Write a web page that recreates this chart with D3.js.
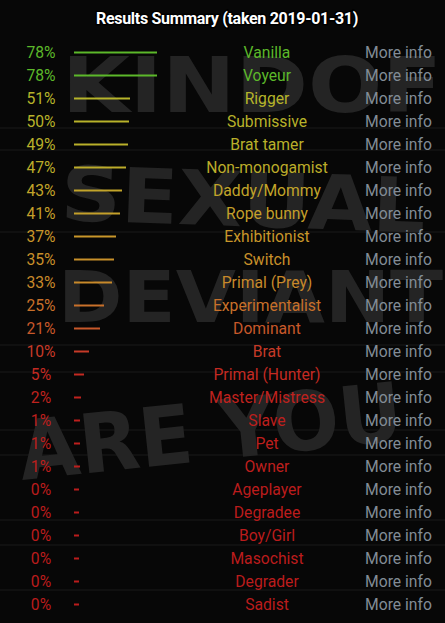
<!DOCTYPE html>
<html>
<head>
<meta charset="utf-8">
<script src="https://cdn.jsdelivr.net/npm/d3@7"></script>
<style>
  html, body { margin: 0; padding: 0; background: #070707; }
  svg { display: block; }
</style>
</head>
<body>
<div id="chart"></div>
<script>
const title = "Results Summary (taken 2019-01-31)";
const categories = ["Vanilla","Voyeur","Rigger","Submissive","Brat tamer","Non-monogamist","Daddy/Mommy","Rope bunny","Exhibitionist","Switch","Primal (Prey)","Experimentalist","Dominant","Brat","Primal (Hunter)","Master/Mistress","Slave","Pet","Owner","Ageplayer","Degradee","Boy/Girl","Masochist","Degrader","Sadist"];
const values = [78,78,51,50,49,47,43,41,37,35,33,25,21,10,5,2,1,1,1,0,0,0,0,0,0];
const linkLabel = "More info";
const backdropWords = ["KINDOF", "SEXUAL", "DEVIANT", "ARE YOU"];

const W = 445, H = 623;
const svg = d3.select("#chart").append("svg").attr("width", W).attr("height", H);

// background
svg.append("rect").attr("width", W).attr("height", H).attr("fill", "#070707");
const brickY = [128, 150, 232, 345, 372, 430, 455, 520, 545, 590];
svg.append("g").selectAll("line").data(brickY).join("line")
  .attr("x1", 0).attr("x2", W).attr("y1", d => d).attr("y2", d => d)
  .attr("stroke", "#101010").attr("stroke-width", 2);
const bg = svg.append("g").attr("fill", "#242424").attr("font-family", "DejaVu Sans").attr("font-weight", "bold");
const bgSpecs = [
  {x: 62, y: 112, len: 380, size: 76, rot: 0},
  {x: 60, y: 220, len: 365, size: 76, rot: 2},
  {x: 58, y: 322, len: 385, size: 72, rot: 0},
  {x: 22, y: 480, len: 385, size: 82, rot: -6}
];
bg.selectAll("text").data(backdropWords).join("text")
  .attr("x", (d, i) => bgSpecs[i].x)
  .attr("y", (d, i) => bgSpecs[i].y)
  .attr("font-size", (d, i) => bgSpecs[i].size)
  .attr("textLength", (d, i) => bgSpecs[i].len)
  .attr("lengthAdjust", "spacingAndGlyphs")
  .attr("transform", (d, i) => `rotate(${bgSpecs[i].rot},${bgSpecs[i].x},${bgSpecs[i].y})`)
  .text(d => d);

// title
svg.append("text")
  .attr("x", 227).attr("y", 24)
  .attr("text-anchor", "middle")
  .attr("font-family", "Roboto").attr("font-weight", "bold").attr("font-size", 16)
  .attr("fill", "#ffffff").attr("stroke", "#000").attr("stroke-width", 3)
  .attr("paint-order", "stroke")
  .attr("letter-spacing", -0.3)
  .text(title);

// scales
const y = d3.scalePoint().domain(categories).range([52.5, 52.5 + 23 * (categories.length - 1)]);
const w = d3.scaleLinear().domain([0, 100]).range([5, 105]);
const color = d3.scaleLinear()
  .domain([0, 5, 10, 21, 25, 37, 43, 51, 78])
  .range(["#bb1c1c", "#c42a22", "#c63a28", "#c8582a", "#c8702a", "#c8962a", "#c2a42a", "#b6b42a", "#5cb82a"])
  .interpolate(d3.interpolateRgb);

const rows = svg.append("g").attr("font-family", "Roboto").attr("font-size", 15.7)
  .selectAll("g").data(categories).join("g")
  .attr("transform", d => `translate(0,${y(d)})`);

rows.append("text")
  .attr("x", 41).attr("y", 5.7).attr("text-anchor", "middle")
  .attr("fill", (d, i) => color(values[i]))
  .text((d, i) => values[i] + "%");

rows.append("rect")
  .attr("x", 74).attr("y", -1)
  .attr("width", (d, i) => w(values[i])).attr("height", 2)
  .attr("fill", (d, i) => color(values[i]));

rows.append("text")
  .attr("x", 267).attr("y", 5.7).attr("text-anchor", "middle")
  .attr("fill", (d, i) => color(values[i]))
  .text(d => d);

rows.append("text")
  .attr("x", 365).attr("y", 5.7)
  .attr("fill", "#828c96")
  .text(linkLabel);
</script>
</body>
</html>
